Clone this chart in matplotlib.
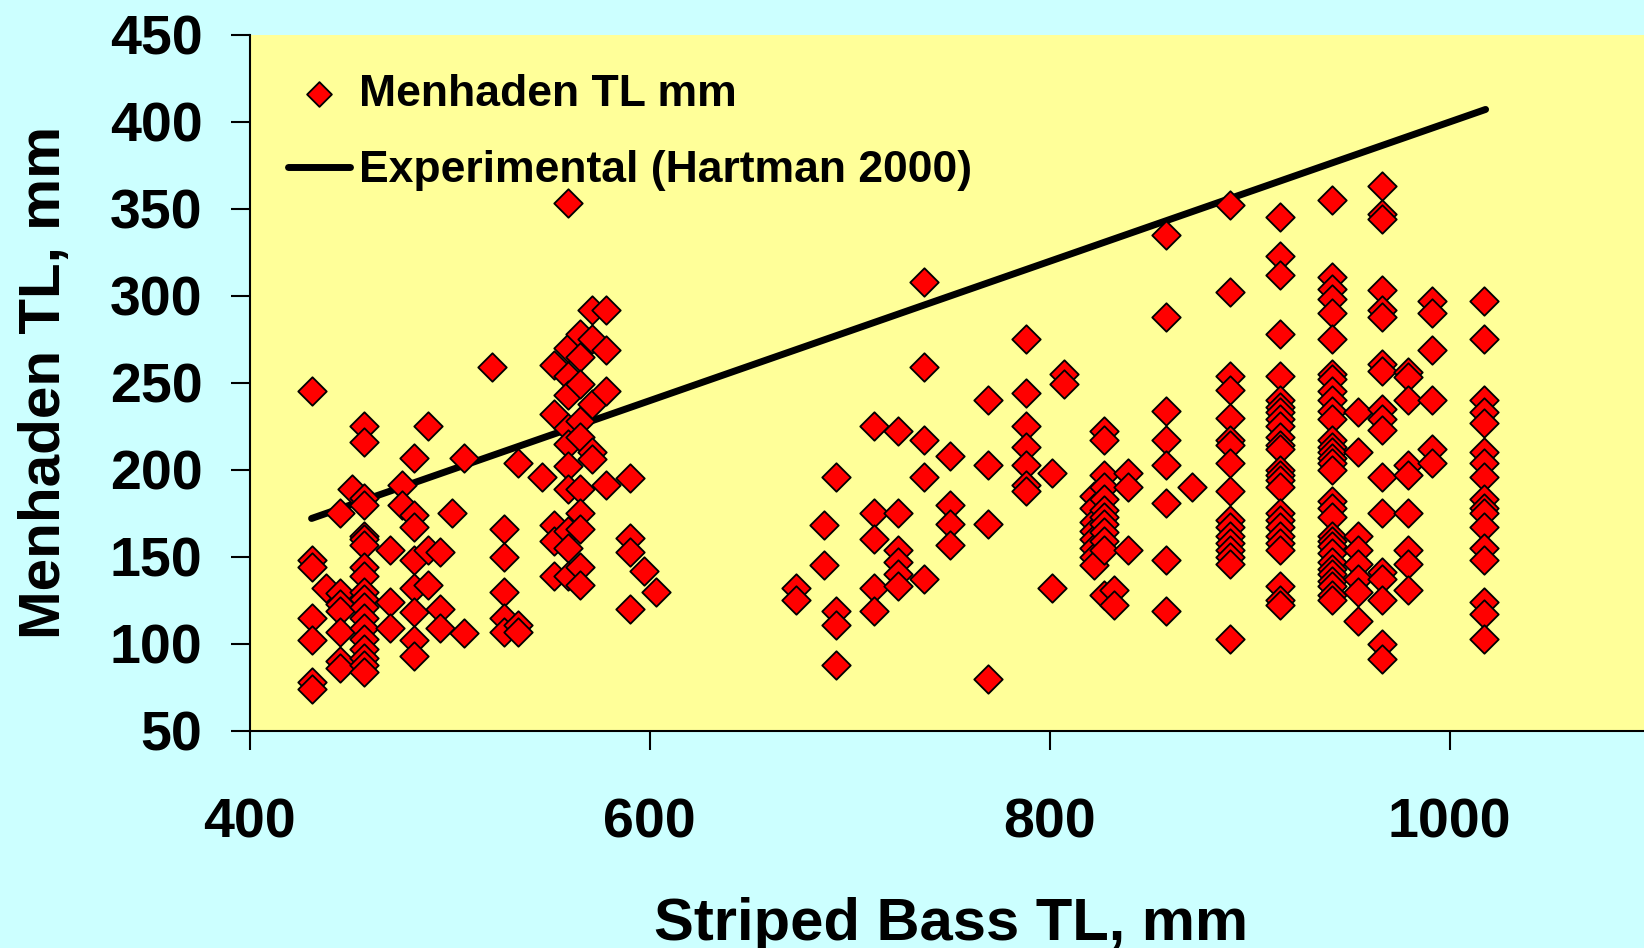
import matplotlib
matplotlib.use('Agg')
import matplotlib.pyplot as plt
import numpy as np

plt.rcParams['font.family'] = ['Liberation Sans', 'DejaVu Sans']
plt.rcParams['font.weight'] = 'bold'

# Striped bass TL (mm) grouped in columns, with the menhaden TL values read at each one
col_bass = [431, 438, 445, 451, 457, 470, 476, 482, 489, 495, 501, 507, 521, 527, 534,
            546, 552, 559, 565, 571, 578, 590, 597, 603,
            673, 687, 693, 712, 724, 737, 750, 769, 788, 801, 807,
            822, 827, 832, 839, 858, 871, 890, 915, 941, 954, 966, 979, 991, 1017]
col_menhaden = [
    [245, 148, 144, 115, 102, 78, 74],
    [132],
    [175, 129, 123, 119, 107, 90, 86],
    [189],
    [225, 216, 184, 180, 162, 160, 157, 144, 139, 130, 126, 121, 115, 109, 103, 97, 92, 88, 84],
    [154, 124, 109],
    [191, 180],
    [207, 174, 167, 148, 132, 118, 102, 93],
    [225, 154, 134],
    [153, 120, 109],
    [175],
    [207, 106],
    [259],
    [166, 150, 130, 115, 107],
    [204, 111, 107],
    [196],
    [260, 232, 168, 159, 139],
    [353, 270, 254, 243, 224, 215, 202, 189, 165, 155, 139],
    [278, 265, 249, 228, 219, 189, 175, 166, 144, 134],
    [292, 275, 238, 210, 206],
    [292, 269, 245, 191],
    [195, 161, 153, 120],
    [142],
    [130],
    [132, 125],
    [168, 145],
    [196, 119, 111, 88],
    [225, 175, 160, 132, 119],
    [222, 175, 154, 147, 140, 133],
    [308, 259, 217, 196, 137],
    [208, 180, 169, 157],
    [240, 203, 169, 80],
    [275, 244, 225, 213, 203, 191, 188],
    [198, 132],
    [255, 249],
    [185, 178, 170, 165, 160, 155, 150, 145],
    [222, 217, 197, 190, 183, 177, 173, 169, 164, 159, 154, 128],
    [131, 122],
    [198, 190, 154],
    [335, 288, 234, 217, 203, 181, 148, 119],
    [190],
    [352, 302, 254, 246, 230, 217, 214, 204, 188, 171, 167, 162, 158, 154, 150, 146, 103],
    [345, 323, 312, 278, 254, 240, 236, 233, 229, 225, 219, 214, 212, 200, 197, 194, 190,
     175, 171, 167, 162, 158, 154, 133, 125, 122],
    [355, 311, 304, 298, 290, 275, 255, 252, 245, 240, 234, 229, 217, 213, 210, 207, 204,
     200, 182, 178, 173, 162, 159, 156, 152, 147, 143, 140, 136, 133, 128, 125],
    [233, 210, 162, 154, 146, 137, 130, 113],
    [363, 347, 344, 303, 292, 288, 261, 257, 235, 229, 223, 196, 175, 141, 137, 125, 100, 91],
    [256, 253, 240, 203, 197, 175, 154, 146, 131],
    [297, 290, 269, 240, 212, 204],
    [297, 275, 240, 233, 227, 210, 204, 196, 183, 178, 175, 167, 155, 148, 124, 117, 103],
]

# Experimental line (Hartman 2000)
line_bass = [431, 1018]
line_menhaden = [172, 407]

x_ticks = [400, 600, 800, 1000]
y_ticks = [50, 100, 150, 200, 250, 300, 350, 400, 450]

bass = []
menhaden = []
for xb, ys in zip(col_bass, col_menhaden):
    bass += [xb] * len(ys)
    menhaden += ys

fig = plt.figure(figsize=(16.44, 9.48), dpi=100, facecolor='#CCFFFF')
ax = fig.add_axes([0.1518, 0.2291, 0.8516, 0.7344])
ax.set_facecolor('#FFFF99')

ax.plot(line_bass, line_menhaden, color='black', lw=5, solid_capstyle='round',
        label='Experimental (Hartman 2000)', zorder=2)
ax.scatter(bass, menhaden, marker='D', s=14.5 ** 2, color='#FF0000', edgecolor='black',
           linewidth=1.3, label='Menhaden TL mm', zorder=3)

ax.set_xlim(400, 1100)
ax.set_ylim(50, 450)
ax.set_xticks(x_ticks)
ax.set_yticks(y_ticks)
ax.tick_params(axis='y', direction='out', length=14, width=1.5, pad=20, labelsize=40)
ax.tick_params(axis='x', direction='out', length=14, width=1.5, pad=34, labelsize=40)
for s in ['top', 'right']:
    ax.spines[s].set_visible(False)
for s in ['left', 'bottom']:
    ax.spines[s].set_linewidth(1.5)

h, l = ax.get_legend_handles_labels()
ax.legend([h[1], h[0]], [l[1], l[0]], loc='upper left', bbox_to_anchor=(0.0275, 0.944),
          frameon=False, fontsize=32, handlelength=1.4, handletextpad=0.2,
          labelspacing=0.8, borderpad=0, borderaxespad=0, markerscale=0.87)

fig.text(45 / 1644, 1 - 382 / 948, 'Menhaden TL, mm', rotation=90, ha='center',
         va='center', fontsize=42, fontweight='bold')
fig.text(951 / 1644, 0.008, 'Striped Bass TL, mm', ha='center', va='baseline',
         fontsize=43, fontweight='bold')

fig.savefig('out.png', dpi=100, facecolor=fig.get_facecolor())
